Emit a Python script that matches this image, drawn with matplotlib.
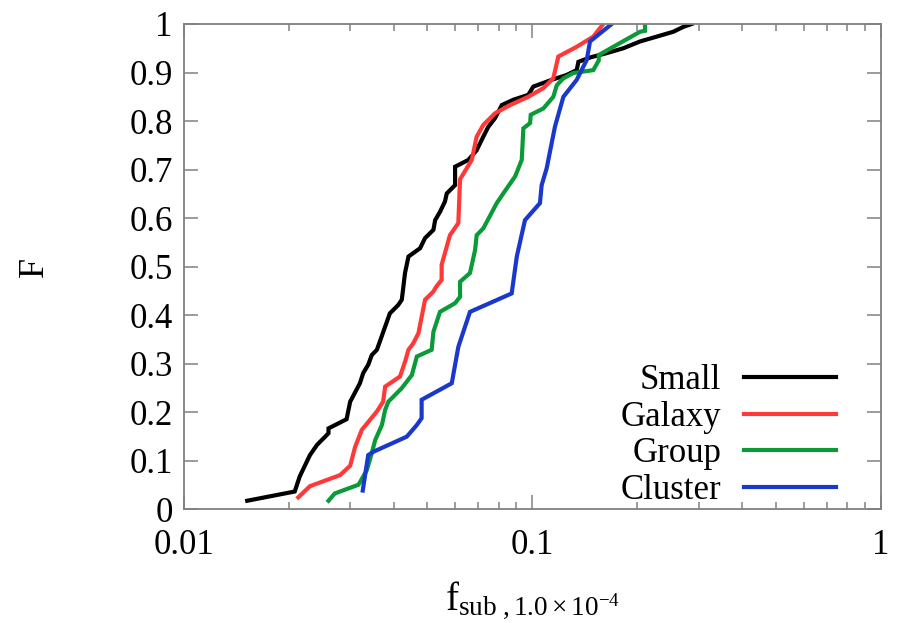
import matplotlib.pyplot as plt
from matplotlib.ticker import FixedLocator, NullFormatter, FixedFormatter

plt.rcParams['font.family'] = ['Liberation Serif', 'DejaVu Serif']
plt.rcParams['mathtext.fontset'] = 'custom'
plt.rcParams['mathtext.rm'] = 'Liberation Serif'
plt.rcParams['mathtext.it'] = 'Liberation Serif:italic'

# cumulative distributions of the subhalo mass fraction
small_x = [0.0152, 0.0208, 0.0215, 0.0230, 0.0241, 0.0260, 0.0260, 0.0293, 0.0300,
           0.0320, 0.0327, 0.0338, 0.0346, 0.0358, 0.0390, 0.0412, 0.0422, 0.0431,
           0.0441, 0.0476, 0.0492, 0.0520, 0.0526, 0.0543, 0.0561, 0.0568, 0.0600,
           0.0600, 0.0655, 0.0692, 0.0723, 0.0747, 0.0781, 0.0817, 0.0882, 0.0973,
           0.1006, 0.1136, 0.1254, 0.1340, 0.1355, 0.1463, 0.1634, 0.1823, 0.2036,
           0.2274, 0.2536, 0.2710, 0.2864]
small_F = [0.018, 0.037, 0.068, 0.112, 0.133, 0.157, 0.167, 0.186, 0.222,
           0.260, 0.281, 0.298, 0.318, 0.329, 0.404, 0.421, 0.432, 0.487,
           0.521, 0.538, 0.559, 0.576, 0.596, 0.613, 0.634, 0.651, 0.668,
           0.706, 0.720, 0.740, 0.768, 0.788, 0.806, 0.833, 0.844, 0.854,
           0.871, 0.885, 0.895, 0.905, 0.922, 0.931, 0.940, 0.950, 0.964,
           0.974, 0.984, 0.994, 1.000]

galaxy_x = [0.0213, 0.0230, 0.0281, 0.0300, 0.0310, 0.0324, 0.0358, 0.0373, 0.0378,
            0.0417, 0.0431, 0.0441, 0.0455, 0.0471, 0.0492, 0.0520, 0.0530, 0.0549,
            0.0549, 0.0580, 0.0613, 0.0620, 0.0670, 0.0692, 0.0723, 0.0781, 0.0863,
            0.0973, 0.1075, 0.1148, 0.1187, 0.1340, 0.1495, 0.1597]
galaxy_F = [0.025, 0.048, 0.071, 0.090, 0.129, 0.164, 0.202, 0.222, 0.253,
            0.274, 0.304, 0.329, 0.342, 0.363, 0.432, 0.449, 0.459, 0.473,
            0.504, 0.565, 0.590, 0.680, 0.720, 0.768, 0.792, 0.816, 0.833,
            0.850, 0.868, 0.888, 0.933, 0.953, 0.974, 1.000]

group_x = [0.0260, 0.0271, 0.0317, 0.0335, 0.0346, 0.0354, 0.0370, 0.0378, 0.0386,
           0.0422, 0.0451, 0.0466, 0.0514, 0.0520, 0.0543, 0.0600, 0.0620, 0.0620,
           0.0662, 0.0685, 0.0692, 0.0723, 0.0790, 0.0825, 0.0892, 0.0932, 0.0942,
           0.0985, 0.0989, 0.1075, 0.1148, 0.1175, 0.1227, 0.1310, 0.1495, 0.1550,
           0.1550, 0.1706, 0.2036, 0.2104, 0.2104]
group_F = [0.018, 0.033, 0.051, 0.081, 0.116, 0.143, 0.174, 0.205, 0.222,
           0.250, 0.277, 0.315, 0.329, 0.366, 0.407, 0.425, 0.438, 0.469,
           0.487, 0.535, 0.565, 0.579, 0.631, 0.651, 0.686, 0.720, 0.785,
           0.796, 0.813, 0.826, 0.850, 0.874, 0.888, 0.899, 0.905, 0.925,
           0.936, 0.953, 0.984, 0.986, 1.000]

cluster_x = [0.0326, 0.0338, 0.0350, 0.0436, 0.0466, 0.0481, 0.0481, 0.0587, 0.0613,
             0.0662, 0.0872, 0.0902, 0.0952, 0.1051, 0.1063, 0.1099, 0.1123, 0.1161,
             0.1227, 0.1340, 0.1432, 0.1463, 0.1689]
cluster_F = [0.039, 0.112, 0.119, 0.150, 0.174, 0.188, 0.226, 0.260, 0.335,
             0.407, 0.445, 0.521, 0.596, 0.631, 0.668, 0.703, 0.737, 0.789,
             0.850, 0.885, 0.926, 0.964, 1.000]

series = [('Small', small_x, small_F, '#000000'),
          ('Galaxy', galaxy_x, galaxy_F, '#ff3838'),
          ('Group', group_x, group_F, '#0a9a38'),
          ('Cluster', cluster_x, cluster_F, '#1a38cc')]

fig = plt.figure(figsize=(9.07, 6.23), dpi=100)
ax = fig.add_axes([0.2027, 0.1822, 0.7686, 0.7793])

for name, xs, fs, col in series:
    ax.plot(xs, fs, color=col, lw=3.0, label=name, solid_joinstyle='miter')

ax.set_xscale('log')
ax.set_xlim(0.01, 1)
ax.set_ylim(0, 1)

ax.xaxis.set_major_locator(FixedLocator([0.01, 0.1, 1]))
ax.xaxis.set_major_formatter(FixedFormatter(['0.01', '0.1', '1']))
minors = [m * d for d in (0.01, 0.1) for m in range(2, 10)]
ax.xaxis.set_minor_locator(FixedLocator(minors))
ax.xaxis.set_minor_formatter(NullFormatter())
yt = [i / 10 for i in range(11)]
ax.set_yticks(yt)
ax.set_yticklabels(['0'] + ['%.1f' % v for v in yt[1:-1]] + ['1'])

ax.tick_params(which='both', direction='in', top=True, right=True,
               color='#808080', labelsize=25)
ax.tick_params(which='major', length=10, width=1.1)
ax.tick_params(which='minor', length=5, width=1.1)
ax.tick_params(axis='x', pad=14)
ax.tick_params(axis='y', pad=8)
for s in ax.spines.values():
    s.set_color('#808080')
    s.set_linewidth(1.3)

ax.set_ylabel('F', fontsize=26, labelpad=56)
ax.set_xlabel(r'$\mathrm{f}_{\mathrm{sub\ ,1.0\times10^{-4}}}$', fontsize=28, labelpad=12)

leg = ax.legend(loc='lower right', frameon=False, markerfirst=False, fontsize=25,
                handlelength=2.65, handletextpad=0.65, labelspacing=0.1,
                borderaxespad=0.0, bbox_to_anchor=(0.955, -0.023))
for line in leg.get_lines():
    line.set_linewidth(3)

fig.savefig('out.png', dpi=100)
